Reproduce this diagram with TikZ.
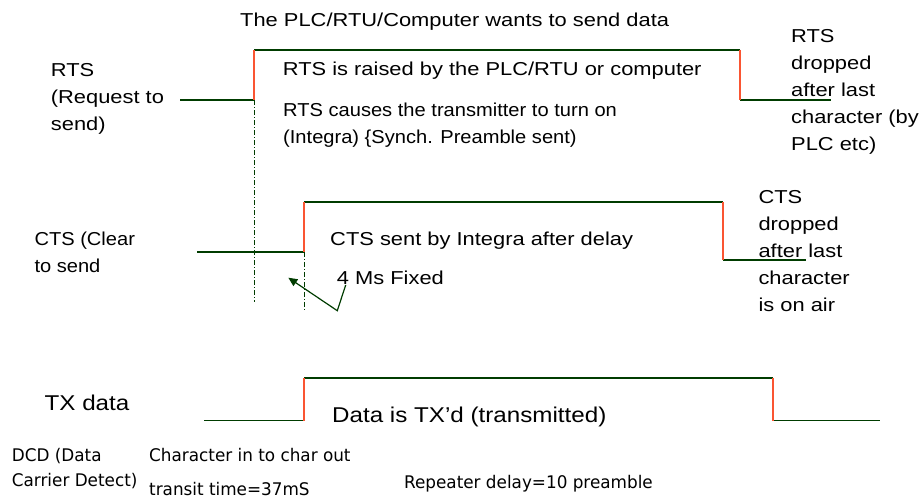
\documentclass[tikz,border=0pt]{standalone}
\usepackage{fontspec}
\usetikzlibrary{arrows.meta}
\newfontfamily\mainf[FakeStretch=1.17]{Liberation Sans}
\newfontfamily\narf[FakeStretch=1.075]{Liberation Sans}
\newfontfamily\bigf[FakeStretch=1.13]{Liberation Sans}
\newfontfamily\tahf[FakeStretch=1.075]{DejaVu Sans Condensed}
\definecolor{sig}{RGB}{0,60,0}
\definecolor{edge}{RGB}{250,85,50}
\tikzset{
  lbl/.style={anchor=base west, inner sep=0pt, font=\mainf\fontsize{18.7}{27}\selectfont, text=black},
  mid/.style={lbl, font=\narf\fontsize{18.7}{27}\selectfont},
  big/.style={lbl, font=\bigf\fontsize{21.4}{27}\selectfont},
  small/.style={anchor=base west, inner sep=0pt, font=\tahf\fontsize{17.4}{25}\selectfont, text=black},
  low/.style={draw=sig, line width=1.4pt},
  rise/.style={draw=edge, line width=1.8pt},
  guide/.style={draw=sig, line width=1pt, dash pattern=on 5pt off 2pt on 1pt off 2pt},
  pointer/.style={draw=sig, line width=1.2pt, -{Triangle[length=9pt,width=8pt]}}
}
\begin{document}
\begin{tikzpicture}[x=1pt,y=-1pt]
\useasboundingbox (0,0) rectangle (921,502);
% RTS waveform
\coordinate (r0) at (180,100);
\coordinate (r1) at (254,100);
\coordinate (r2) at (254,50);
\coordinate (r3) at (740,50);
\coordinate (r4) at (740,100);
\coordinate (r5) at (831,100);
\draw[low] (r0) -- (r1);
\draw[low] (r2) -- (r3);
\draw[low] (r4) -- (r5);
\draw[rise] (r1) -- (r2);
\draw[rise] (r3) -- (r4);
% CTS waveform
\coordinate (c0) at (197,252);
\coordinate (c1) at (304,252);
\coordinate (c2) at (304,202);
\coordinate (c3) at (723,202);
\coordinate (c4) at (723,260);
\coordinate (c5) at (806,260);
\draw[low] (c0) -- (c1);
\draw[low] (c2) -- (c3);
\draw[low] (c4) -- (c5);
\draw[rise] (c1) -- (c2);
\draw[rise] (c3) -- (c4);
% TX waveform
\coordinate (t0) at (204,420.5);
\coordinate (t1) at (304,420.5);
\coordinate (t2) at (304,378);
\coordinate (t3) at (773,378);
\coordinate (t4) at (773,420.5);
\coordinate (t5) at (880,420.5);
\draw[low] (t0) -- (t1);
\draw[low] (t2) -- (t3);
\draw[low] (t4) -- (t5);
\draw[rise] (t1) -- (t2);
\draw[rise] (t3) -- (t4);
% guides
\coordinate (g1) at (254,302);
\coordinate (g2) at (304,310);
\draw[guide] (r1) -- (g1);
\draw[guide] (c1) -- (g2);
% arrow
\coordinate (a0) at (345.7,285);
\coordinate (a1) at (337.3,310.7);
\coordinate (a2) at (288.3,277.7);
\draw[pointer] (a0) -- (a1) -- (a2);
% texts
\node[lbl] (title) at (240,27) {The PLC/RTU/Computer wants to send data};
\node[lbl] (rtsA) at (50.7,76.7) {RTS};
\node[lbl] (rtsB) at (50.7,103.7) {(Request to};
\node[lbl] (rtsC) at (50.7,130.7) {send)};
\node[lbl] (raised) at (282.7,75.7) {RTS is raised by the PLC/RTU or computer};
\node[mid] (causesA) at (283,116.5) {RTS causes the transmitter to turn on};
\node[mid] (causesB) at (283,143.5) {(Integra) \{Synch. Preamble sent)};
\node[mid] (ctsA) at (34.3,246) {CTS (Clear};
\node[mid] (ctsB) at (34.3,272.7) {to send};
\node[lbl] (ctssent) at (330,246) {CTS sent by Integra after delay};
\node[lbl] (fixed) at (336.7,285) {4 Ms Fixed};
\node[lbl] (rdA) at (791,43) {RTS};
\node[lbl] (rdB) at (791,70) {dropped};
\node[lbl] (rdC) at (791,97) {after last};
\node[lbl] (rdD) at (791,124) {character (by};
\node[lbl] (rdE) at (791,151) {PLC etc)};
\node[lbl] (cdA) at (758.3,203.5) {CTS};
\node[lbl] (cdB) at (758.3,230.5) {dropped};
\node[lbl] (cdC) at (758.3,257.5) {after last};
\node[lbl] (cdD) at (758.3,284.5) {character};
\node[lbl] (cdE) at (758.3,311.5) {is on air};
\node[big] (tx) at (44.5,410.6) {TX data};
\node[big] (txd) at (332,422.9) {Data is TX’d (transmitted)};
\node[small] (dcdA) at (11.7,461.7) {DCD (Data};
\node[small] (dcdB) at (11.7,486.7) {Carrier Detect)};
\node[small] (charin) at (149,461.7) {Character in to char out};
\node[small] (transit) at (149,495) {transit time=37mS};
\node[small] (rep) at (404,488.3) {Repeater delay=10 preamble};
\end{tikzpicture}
\end{document}
